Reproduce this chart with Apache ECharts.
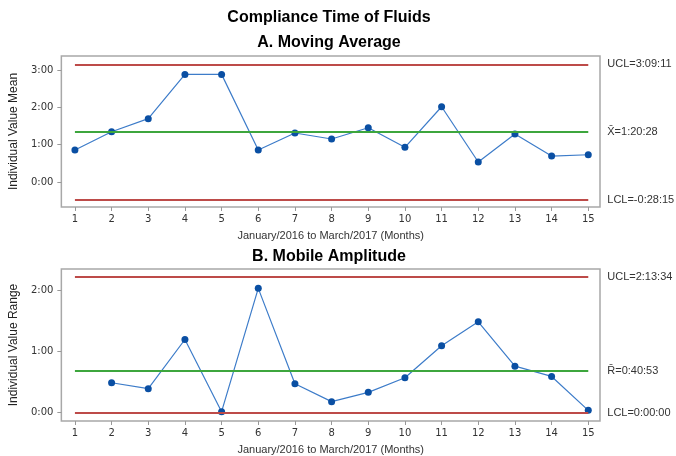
<!DOCTYPE html>
<html><head><meta charset="utf-8">
<script src="https://cdn.jsdelivr.net/npm/echarts@6/dist/echarts.min.js"></script>
<style>html,body{margin:0;padding:0;background:#fff}#c{width:676px;height:456px}</style>
</head><body><div id="c"></div>
<script>
// Months (x)
const months = [1,2,3,4,5,6,7,8,9,10,11,12,13,14,15];
// Chart A: individual values (hours)
const meanValues = [0.858,1.349,1.70,2.887,2.887,0.858,1.314,1.153,1.456,0.930,2.019,0.536,1.287,0.697,0.732];
// Chart B: moving ranges (hours); none for month 1
const rangeValues = [null,0.49,0.392,1.198,0.016,2.036,0.474,0.18,0.332,0.572,1.095,1.487,0.761,0.593,0.038];
// Control limits (hours) and their labels
const limitsA = [3.153, 1.341, -0.471];
const limitLabelsA = ['UCL=3:09:11', 'X\u0304=1:20:28', 'LCL=-0:28:15'];
const limitsB = [2.226, 0.681, 0];
const limitLabelsB = ['UCL=2:13:34', 'R\u0304=0:40:53', 'LCL=0:00:00'];
const yTicksA = [0,1,2,3];
const yTicksB = [0,1,2];
const yTickLabels = {0:'0:00',1:'1:00',2:'2:00',3:'3:00'};

const RED = '#bd4b49', GREEN = '#3da63d', BLUE = '#3d7cc9', DOT = '#0a4fa3';
const axisFont = {fontFamily:'DejaVu Sans', fontSize:10, color:'#333'};

function limitLines(vals, labels){
  return vals.map((v,i)=>[
    {coord:[months[0], v], lineStyle:{color: i===1 ? GREEN : RED, width:2, type:'solid'},
     label:{show:true, position:'end', formatter: labels[i], distance: 19,
            fontFamily:'Liberation Sans', fontSize:11, color:'#333'}},
    {coord:[months[months.length-1], v]}
  ]);
}
function xAxis(gi){
  return {type:'value', gridIndex:gi, min:0.63, max:15.32,
    axisLine:{show:false, onZero:false}, splitLine:{show:false},
    axisTick:{show:true, customValues:months, length:4, lineStyle:{color:'#999'}},
    axisLabel:Object.assign({customValues:months, margin:7}, axisFont),
    name:'January/2016 to March/2017 (Months)', nameLocation:'middle', nameGap:23,
    nameTextStyle:{fontFamily:'Liberation Sans', fontSize:11, color:'#333'}};
}
function yAxis(gi, min, max, ticks, name){
  return {type:'value', gridIndex:gi, min:min, max:max,
    axisLine:{show:false, onZero:false}, splitLine:{show:false},
    axisTick:{show:true, customValues:ticks, length:4, lineStyle:{color:'#999'}},
    axisLabel:Object.assign({customValues:ticks, margin:8, formatter:v=>yTickLabels[Math.round(v)]}, axisFont),
    name:name, nameLocation:'middle', nameGap:33, nameRotate:90,
    nameTextStyle:{fontFamily:'Liberation Sans', fontSize:12, color:'#222'}};
}
const chart = echarts.init(document.getElementById('c'), null, {renderer:'canvas'});
chart.setOption({
  animation:false,
  graphic:[
    {type:'text', x:329, y:10, style:{text:'Compliance Time of Fluids', textAlign:'center', font:'bold 16px "Liberation Sans"', fill:'#000'}},
    {type:'text', x:329, y:35, style:{text:'A. Moving Average', textAlign:'center', font:'bold 16px "Liberation Sans"', fill:'#000'}},
    {type:'text', x:329, y:249, style:{text:'B. Mobile Amplitude', textAlign:'center', font:'bold 16px "Liberation Sans"', fill:'#000'}}
  ],
  grid:[
    {left:57, top:56, width:543, height:151, show:true, borderColor:'#a8a8a8', borderWidth:1.5, backgroundColor:'#fff'},
    {left:57, top:269, width:543, height:152, show:true, borderColor:'#a8a8a8', borderWidth:1.5, backgroundColor:'#fff'}
  ],
  xAxis:[xAxis(0), xAxis(1)],
  yAxis:[yAxis(0,-0.67,3.38,yTicksA,'Individual Value Mean'), yAxis(1,-0.137,2.353,yTicksB,'Individual Value Range')],
  series:[
    {type:'line', xAxisIndex:0, yAxisIndex:0, data:months.map((m,i)=>[m,meanValues[i]]),
     symbol:'circle', symbolSize:7, itemStyle:{color:DOT}, lineStyle:{color:BLUE, width:1.2},
     markLine:{silent:true, symbol:['none','none'], data:limitLines(limitsA, limitLabelsA)}, z:3},
    {type:'line', xAxisIndex:1, yAxisIndex:1, data:months.map((m,i)=>[m,rangeValues[i]]),
     symbol:'circle', symbolSize:7, itemStyle:{color:DOT}, lineStyle:{color:BLUE, width:1.2},
     markLine:{silent:true, symbol:['none','none'], data:limitLines(limitsB, limitLabelsB)}, z:3}
  ]
});
</script></body></html>
